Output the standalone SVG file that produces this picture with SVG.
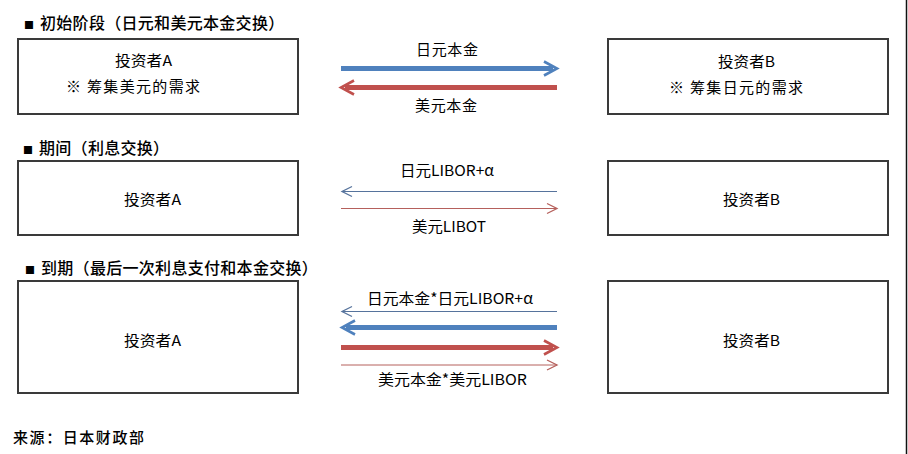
<svg xmlns="http://www.w3.org/2000/svg" width="908" height="454" viewBox="0 0 908 454">
<style>
  text { font-family: "Noto Sans CJK SC", "Noto Sans", sans-serif; fill: #000; font-weight: 400; }
  .title { font-size: 16px; letter-spacing: 0.3px; font-weight: 500; }
  .lbl { font-size: 15px; }
  .src { font-weight: 500; }
  .box { fill: #fff; stroke: #3a3a3a; stroke-width: 2; }
  .thickB { stroke: #4f81bd; stroke-width: 5; fill: none; }
  .thickR { stroke: #c0504d; stroke-width: 5; fill: none; }
  .thinB { stroke: #56739c; stroke-width: 1; fill: none; }
  .thinR { stroke: #b5605c; stroke-width: 1; fill: none; }
</style>
<defs>
  <marker id="mThickB" markerUnits="userSpaceOnUse" markerWidth="20" markerHeight="20" refX="9" refY="10" orient="auto" overflow="visible">
    <path d="M0,3 L13,10 L0,17" fill="none" stroke="#4f81bd" stroke-width="2.6"/>
  </marker>
  <marker id="mThickR" markerUnits="userSpaceOnUse" markerWidth="20" markerHeight="20" refX="9" refY="10" orient="auto" overflow="visible">
    <path d="M0,3 L13,10 L0,17" fill="none" stroke="#c0504d" stroke-width="2.6"/>
  </marker>
  <marker id="mThinB" markerUnits="userSpaceOnUse" markerWidth="14" markerHeight="14" refX="10" refY="5" orient="auto" overflow="visible">
    <path d="M0,0 L10,5 L0,10" fill="none" stroke="#56739c" stroke-width="1.3"/>
  </marker>
  <marker id="mThinR" markerUnits="userSpaceOnUse" markerWidth="14" markerHeight="14" refX="10" refY="5" orient="auto" overflow="visible">
    <path d="M0,0 L10,5 L0,10" fill="none" stroke="#b5605c" stroke-width="1.3"/>
  </marker>
</defs>
<rect width="908" height="454" fill="#fff"/>
<line x1="906.5" y1="0" x2="906.5" y2="454" stroke="#111" stroke-width="1.5"/>

<g id="titles">
  <text class="title" x="24" y="29"><tspan font-size="10">■ </tspan><tspan x="40">初始阶段（日元和美元本金交换）</tspan></text>
  <text class="title" x="23" y="154"><tspan font-size="10">■ </tspan><tspan x="39">期间（利息交换）</tspan></text>
  <text class="title" x="25" y="274"><tspan font-size="10">■ </tspan><tspan x="41">到期（最后一次利息支付和本金交换）</tspan></text>
</g>

<g id="nodeA1">
  <rect class="box" x="18" y="39" width="280" height="75"/>
  <text class="lbl" x="115" y="66" textLength="57" lengthAdjust="spacingAndGlyphs">投资者A</text>
  <text class="lbl" x="66" y="92" textLength="134" lengthAdjust="spacing">※ 筹集美元的需求</text>
</g>
<g id="nodeB1">
  <rect class="box" x="608" y="39" width="280" height="75"/>
  <text class="lbl" x="718" y="67" textLength="57" lengthAdjust="spacingAndGlyphs">投资者B</text>
  <text class="lbl" x="669" y="93" textLength="134" lengthAdjust="spacing">※ 筹集日元的需求</text>
</g>
<g id="nodeA2">
  <rect class="box" x="18" y="161" width="280" height="74"/>
  <text class="lbl" x="124" y="205" textLength="57" lengthAdjust="spacingAndGlyphs">投资者A</text>
</g>
<g id="nodeB2">
  <rect class="box" x="608" y="161" width="280" height="74"/>
  <text class="lbl" x="723" y="205" textLength="57" lengthAdjust="spacingAndGlyphs">投资者B</text>
</g>
<g id="nodeA3">
  <rect class="box" x="18" y="281" width="280" height="112"/>
  <text class="lbl" x="124" y="346" textLength="57" lengthAdjust="spacingAndGlyphs">投资者A</text>
</g>
<g id="nodeB3">
  <rect class="box" x="608" y="281" width="280" height="112"/>
  <text class="lbl" x="723" y="346" textLength="57" lengthAdjust="spacingAndGlyphs">投资者B</text>
</g>

<g id="connectors">
  <line class="thickB" x1="341" y1="68.5" x2="553" y2="68.5" marker-end="url(#mThickB)"/>
  <line class="thickR" x1="557" y1="87.5" x2="345" y2="87.5" marker-end="url(#mThickR)"/>
  <text class="lbl" x="416" y="55" textLength="62" lengthAdjust="spacing">日元本金</text>
  <text class="lbl" x="415" y="111" textLength="62" lengthAdjust="spacing">美元本金</text>

  <line class="thinB" x1="557" y1="191.5" x2="342" y2="191.5" marker-end="url(#mThinB)"/>
  <line class="thinR" x1="341" y1="208.5" x2="557" y2="208.5" marker-end="url(#mThinR)"/>
  <text class="lbl" x="400" y="176" textLength="94" lengthAdjust="spacingAndGlyphs">日元LIBOR+α</text>
  <text class="lbl" x="412" y="232" textLength="74" lengthAdjust="spacingAndGlyphs">美元LIBOT</text>

  <line class="thinB" x1="557" y1="311.5" x2="342" y2="311.5" marker-end="url(#mThinB)"/>
  <line class="thickB" x1="557" y1="327.5" x2="346" y2="327.5" marker-end="url(#mThickB)"/>
  <line class="thickR" x1="341" y1="347.5" x2="553" y2="347.5" marker-end="url(#mThickR)"/>
  <line class="thinR" x1="341" y1="365" x2="557" y2="365" marker-end="url(#mThinR)"/>
  <text class="lbl" x="367" y="304" textLength="166" lengthAdjust="spacingAndGlyphs">日元本金*日元LIBOR+α</text>
  <text class="lbl" x="378" y="385" textLength="149" lengthAdjust="spacingAndGlyphs">美元本金*美元LIBOR</text>
</g>

<text class="lbl src" x="13" y="443" textLength="131" lengthAdjust="spacing">来源：日本财政部</text>
</svg>
